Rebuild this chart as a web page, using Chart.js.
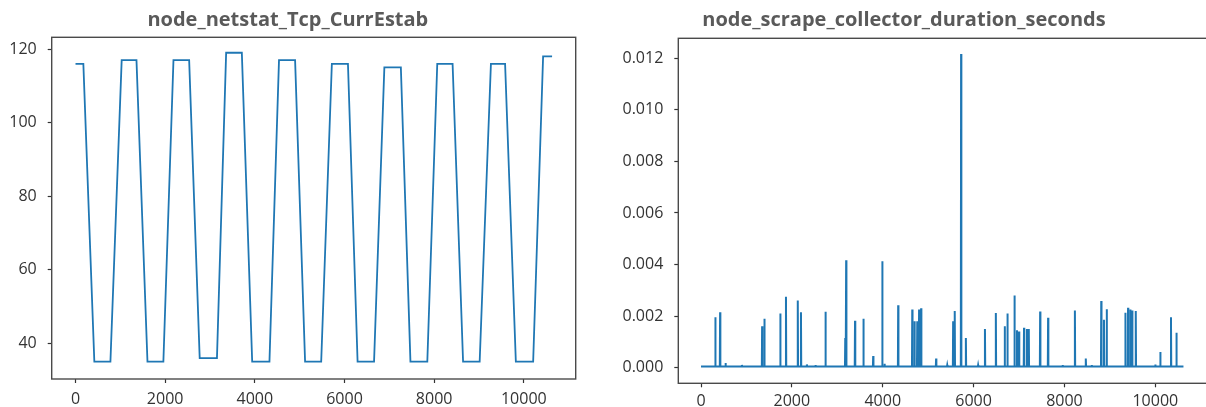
<!DOCTYPE html>
<html>
<head>
<meta charset="utf-8">
<script src="https://cdn.jsdelivr.net/npm/chart.js@4/dist/chart.umd.min.js"></script>
<style>
  html, body { margin: 0; padding: 0; background: #fff; overflow: hidden; width: 1206px; height: 407px; }
  .panel { position: absolute; top: 0; }
  #panelTcp { left: 0; }
  #panelScrape { left: 600px; }
</style>
</head>
<body>
<div class="panel" id="panelTcp"><canvas id="tcp" width="577" height="407"></canvas></div>
<div class="panel" id="panelScrape"><canvas id="scrape" width="630" height="407"></canvas></div>
<script>
// node_netstat_Tcp_CurrEstab: corner points of the plateaus (sample index, connections)
const tcpTime  = [0, 175, 420, 779, 1030, 1360, 1605, 1960, 2185, 2535, 2770, 3155,
                  3360, 3710, 3941, 4326, 4539, 4898, 5121, 5480, 5718, 6077, 6292, 6659,
                  6889, 7257, 7471, 7847, 8069, 8411, 8645, 9015, 9266, 9582, 9822, 10208,
                  10430, 10630];
const tcpValue = [116, 116, 35, 35, 117, 117, 35, 35, 117, 117, 36, 36,
                  119, 119, 35, 35, 117, 117, 35, 35, 116, 116, 35, 35,
                  115, 115, 35, 35, 116, 116, 35, 35, 116, 116, 35, 35,
                  118, 118];

// node_scrape_collector_duration_seconds: idle level and the spikes above it
const scrapeIdle = 0.00004;
const scrapeStart = 0;
const scrapeEnd = 10620;
const spikeTime  = [315, 420, 540, 900, 1345, 1395, 1745, 1870, 2130, 2200, 2330, 2520,
                    2740, 3175, 3195, 3390, 3575, 3790, 3990, 4040, 4340, 4650, 4700, 4760,
                    4800, 4845, 5175, 5420, 5550, 5585, 5725, 5830, 6100, 6250, 6490, 6685,
                    6745, 6900, 6955, 7000, 7110, 7175, 7215, 7465, 7640, 7960, 8230, 8470,
                    8600, 8810, 8870, 8930, 9340, 9400, 9450, 9490, 9570, 10000, 10110, 10345,
                    10465];
const spikeValue = [0.00195, 0.00215, 0.00018, 0.00010, 0.00160, 0.00190, 0.00210, 0.00275, 0.00260, 0.00215, 0.00012, 0.00010,
                    0.00217, 0.00115, 0.00417, 0.00182, 0.00190, 0.00045, 0.00413, 0.00015, 0.00242, 0.00225, 0.00180, 0.00180,
                    0.00225, 0.00230, 0.00035, 0.00010, 0.00180, 0.00220, 0.01217, 0.00115, 0.00010, 0.00150, 0.00212, 0.00160,
                    0.00210, 0.00280, 0.00145, 0.00140, 0.00155, 0.00150, 0.00150, 0.00218, 0.00193, 0.00010, 0.00222, 0.00035,
                    0.00010, 0.00258, 0.00186, 0.00226, 0.00213, 0.00232, 0.00225, 0.00222, 0.00220, 0.00012, 0.00060, 0.00195,
                    0.00135];

// tick labels
const xTicks = [0, 2000, 4000, 6000, 8000, 10000];
const tcpYTicks = [40, 60, 80, 100, 120];
const scrapeYTicks = [0, 0.002, 0.004, 0.006, 0.008, 0.010, 0.012];

const tcpPoints = tcpTime.map((t, i) => ({ x: t, y: tcpValue[i] }));

// each spike rises from the idle level and falls straight back to it
const scrapePoints = [{ x: scrapeStart, y: scrapeIdle }];
spikeTime.forEach((t, i) => {
  scrapePoints.push({ x: t - 6, y: scrapeIdle }, { x: t, y: spikeValue[i] }, { x: t + 6, y: scrapeIdle });
});
scrapePoints.push({ x: scrapeEnd, y: scrapeIdle });

const LINE = '#1f77b4';
const TICK_FONT = { family: 'Open Sans', size: 16 };
const TITLE_FONT = { family: 'Open Sans', size: 20, weight: 'bold' };

// full box around the plotting area
const frame = {
  id: 'frame',
  afterDatasetsDraw(chart) {
    const { ctx, chartArea: a } = chart;
    ctx.save();
    ctx.strokeStyle = '#4a4a4a';
    ctx.lineWidth = 1.4;
    ctx.strokeRect(a.left, a.top, a.right - a.left, a.bottom - a.top);
    ctx.restore();
  }
};

function makeChart(id, o) {
  return new Chart(document.getElementById(id), {
    type: 'line',
    data: {
      datasets: [{
        data: o.points,
        borderColor: o.color,
        borderWidth: o.width,
        pointRadius: 0,
        tension: 0,
        fill: false
      }]
    },
    options: {
      responsive: false,
      animation: false,
      events: [],
      parsing: false,
      layout: { padding: { left: 0, right: o.padRight, top: 0, bottom: 0 } },
      plugins: {
        legend: { display: false },
        tooltip: { enabled: false },
        title: {
          display: true,
          text: o.title,
          color: '#5a5a5a',
          font: TITLE_FONT,
          padding: { top: 8, bottom: o.titleGap }
        }
      },
      scales: {
        x: {
          type: 'linear',
          min: o.xMin,
          max: o.xMax,
          afterFit(s) { s.height = o.xAxisHeight; },
          afterBuildTicks(s) { s.ticks = xTicks.map(v => ({ value: v })); },
          grid: { drawOnChartArea: false, drawTicks: true, tickLength: 4, tickColor: '#333', tickWidth: 1.2 },
          border: { display: false },
          ticks: { autoSkip: false, maxRotation: 0, padding: o.xLabelPad, color: '#333', font: TICK_FONT,
                   callback: v => String(v) }
        },
        y: {
          type: 'linear',
          min: o.yMin,
          max: o.yMax,
          afterFit(s) { s.width = o.yAxisWidth; },
          afterBuildTicks(s) { s.ticks = o.yTicks.map(v => ({ value: v })); },
          grid: { drawOnChartArea: false, drawTicks: true, tickLength: 4, tickColor: '#333', tickWidth: 1.2 },
          border: { display: false },
          ticks: { autoSkip: false, padding: 11, color: '#333', font: TICK_FONT,
                   callback: o.yFormat }
        }
      }
    },
    plugins: [frame]
  });
}

makeChart('tcp', {
  title: 'node_netstat_Tcp_CurrEstab',
  points: tcpPoints,
  color: LINE,
  width: 1.8,
  xMin: -531, xMax: 11157,
  yMin: 30.3, yMax: 123.2,
  yTicks: tcpYTicks,
  yFormat: v => String(v),
  yAxisWidth: 51.7,
  xAxisHeight: 28,
  xLabelPad: 6.5,
  padRight: 1.3,
  titleGap: 5.3
});

makeChart('scrape', {
  title: 'node_scrape_collector_duration_seconds',
  points: scrapePoints,
  color: LINE,
  width: 2,
  xMin: -500, xMax: 11160,
  yMin: -0.00061, yMax: 0.01278,
  yTicks: scrapeYTicks,
  yFormat: v => v.toFixed(3),
  yAxisWidth: 78.3,
  xAxisHeight: 23.7,
  xLabelPad: 4.5,
  padRight: 22,
  titleGap: 6.3
});
</script>
</body>
</html>
